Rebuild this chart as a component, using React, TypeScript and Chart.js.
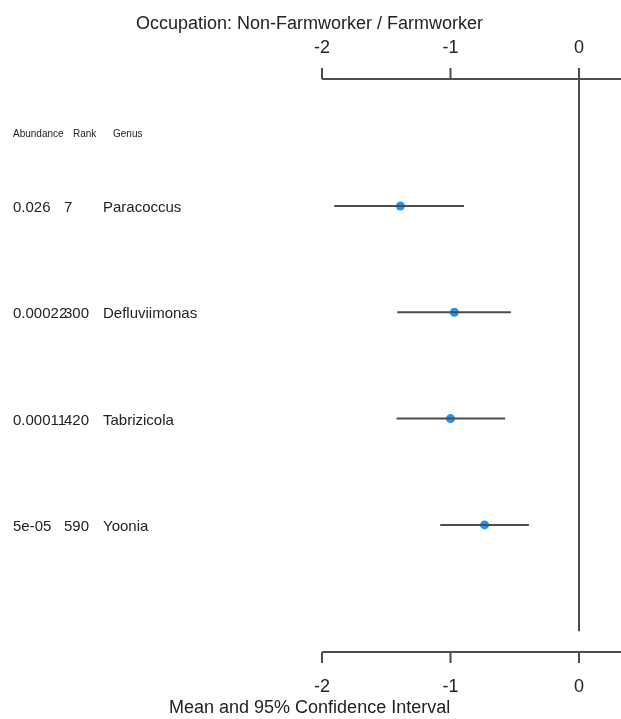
import React, { useEffect, useRef } from "react";
import { Chart, registerables } from "chart.js";

Chart.register(...registerables);

const TITLE_TOP = "Occupation: Non-Farmworker / Farmworker";
const TITLE_BOTTOM = "Mean and 95% Confidence Interval";
const HEADERS = ["Abundance", "Rank", "Genus"];
const GENUS = ["Paracoccus", "Defluviimonas", "Tabrizicola", "Yoonia"];
const ABUNDANCE = ["0.026", "0.00022", "0.00011", "5e-05"];
const RANK = ["7", "300", "420", "590"];
const MEAN = [-1.39, -0.97, -1.0, -0.735];
const LOWER = [-1.905, -1.415, -1.42, -1.08];
const UPPER = [-0.895, -0.53, -0.575, -0.39];
const X_TICKS = [-2, -1, 0];

const FONT = "'Liberation Sans', Arial, sans-serif";
const LINE = "#4d4d4d";
const TEXT = "#222222";
const POINT = "#2196f3";

export default function App() {
  const ref = useRef<HTMLCanvasElement | null>(null);

  useEffect(() => {
    const canvas = ref.current;
    if (!canvas) return;

    const rows = GENUS.map((_, i) => i + 1);

    const ciSets = rows.map((r, i) => ({
      type: "line" as const,
      data: [
        { x: LOWER[i], y: r },
        { x: UPPER[i], y: r },
      ],
      borderColor: LINE,
      borderWidth: 2,
      pointRadius: 0,
      showLine: true,
      fill: false,
    }));

    const axisPlugin = {
      id: "forestAxes",
      afterDraw(chart: any) {
        const ctx = chart.ctx;
        const xs = chart.scales.x;
        const ys = chart.scales.y;
        const { top, bottom, right } = chart.chartArea;
        const left = xs.getPixelForValue(X_TICKS[0]);
        ctx.save();
        ctx.strokeStyle = LINE;
        ctx.lineWidth = 2;
        // top axis
        ctx.beginPath();
        ctx.moveTo(left, top);
        ctx.lineTo(right + 2, top);
        X_TICKS.forEach((t) => {
          const px = xs.getPixelForValue(t);
          ctx.moveTo(px, top);
          ctx.lineTo(px, top - 11);
        });
        // bottom axis
        ctx.moveTo(left, bottom);
        ctx.lineTo(right + 2, bottom);
        X_TICKS.forEach((t) => {
          const px = xs.getPixelForValue(t);
          ctx.moveTo(px, bottom);
          ctx.lineTo(px, bottom + 11);
        });
        ctx.stroke();

        ctx.fillStyle = TEXT;
        ctx.textAlign = "center";
        ctx.textBaseline = "middle";
        ctx.font = `18px ${FONT}`;
        X_TICKS.forEach((t) => {
          const px = xs.getPixelForValue(t);
          ctx.fillText(String(t), px, top - 31);
          ctx.fillText(String(t), px, bottom + 35);
        });
        ctx.textAlign = "left";
        ctx.fillText(TITLE_TOP, 136, 24);
        ctx.fillText(TITLE_BOTTOM, 169, 708);

        // header
        ctx.font = `10px ${FONT}`;
        ctx.fillText(HEADERS[0], 13, 134);
        ctx.fillText(HEADERS[1], 73, 134);
        ctx.fillText(HEADERS[2], 113, 134);

        // row labels
        ctx.font = `15px ${FONT}`;
        rows.forEach((r, i) => {
          const py = ys.getPixelForValue(r) + 2;
          ctx.fillText(ABUNDANCE[i], 13, py);
          ctx.fillText(RANK[i], 64, py);
          ctx.fillText(GENUS[i], 103, py);
        });
        ctx.restore();
      },
    };

    const chart = new Chart(canvas, {
      type: "scatter",
      data: {
        datasets: [
          {
            type: "line" as const,
            data: [
              { x: 0, y: -0.3 },
              { x: 0, y: 5 },
            ],
            borderColor: LINE,
            borderWidth: 2,
            pointRadius: 0,
            showLine: true,
            fill: false,
          },
          ...ciSets,
          {
            type: "scatter" as const,
            data: rows.map((r, i) => ({ x: MEAN[i], y: r })),
            backgroundColor: POINT,
            borderColor: POINT,
            pointRadius: 4.5,
            borderWidth: 0,
          },
        ] as any,
      },
      options: {
        animation: false,
        responsive: false,
        events: [],
        layout: { autoPadding: false, padding: { left: 322, right: 0, top: 79, bottom: 67 } },
        plugins: {
          legend: { display: false },
          tooltip: { enabled: false },
          title: { display: false },
        },
        scales: {
          x: { type: "linear", min: -2, max: 0.3268, display: false },
          y: { type: "linear", min: -0.194, max: 5.195, reverse: true, display: false },
        },
      },
      plugins: [axisPlugin],
    });

    return () => chart.destroy();
  }, []);

  return (
    <div style={{ position: "absolute", left: 0, top: 0, width: 621, height: 719, background: "#fff" }}>
      <canvas ref={ref} width={621} height={719} style={{ width: 621, height: 719, display: "block" }} />
    </div>
  );
}
